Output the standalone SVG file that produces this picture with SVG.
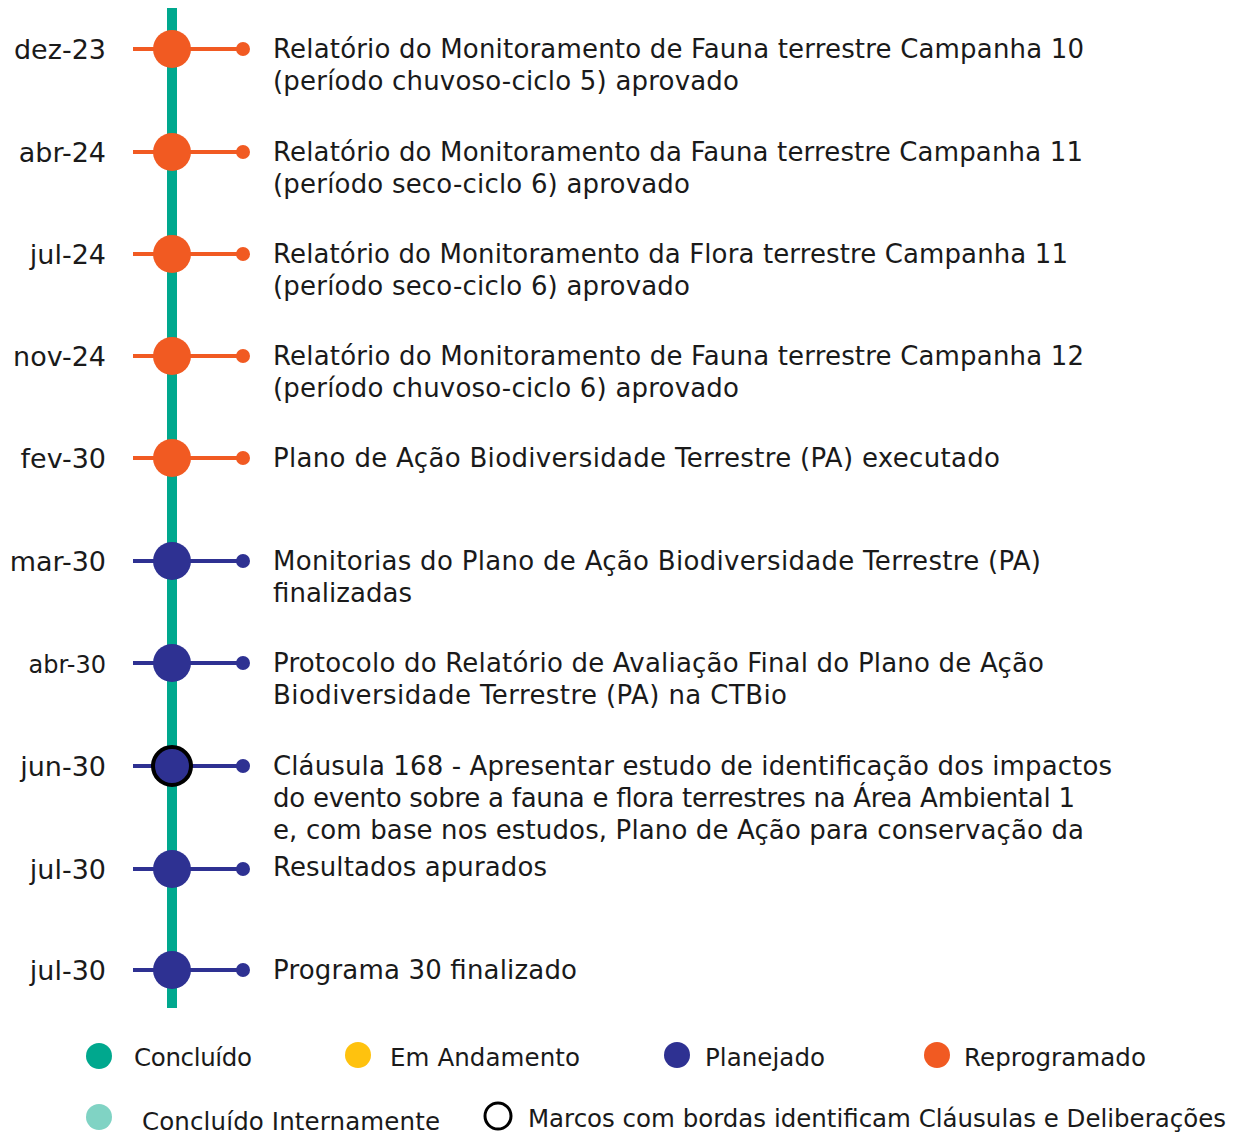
<svg xmlns="http://www.w3.org/2000/svg" width="1236" height="1135" viewBox="0 0 1236 1135">
<style>
text{font-family:"DejaVu Sans",Verdana,sans-serif;fill:#1a1a1a;font-size:26px}
.d{text-anchor:end;font-size:27px}
.g{font-size:24.5px}
.o{fill:#F15A22}.p{fill:#2E3192}
.ol{stroke:#F15A22;stroke-width:4}.pl{stroke:#2E3192;stroke-width:4}
</style>
<rect width="1236" height="1135" fill="#fff"/>
<g id="connectors">
<line x1="172" y1="8" x2="172" y2="1008" stroke="#00A88E" stroke-width="10"/>
</g>
<g id="n1"><line class="ol" x1="133" y1="49" x2="243" y2="49"/><circle class="o" cx="172" cy="49" r="19"/><circle class="o" cx="243" cy="49" r="7"/><text class="d" x="106" y="59">dez-23</text><text x="273" y="58" textLength="811">Relatório do Monitoramento de Fauna terrestre Campanha 10</text><text x="273" y="90" textLength="466">(período chuvoso-ciclo 5) aprovado</text></g>
<g id="n2"><line class="ol" x1="133" y1="152" x2="243" y2="152"/><circle class="o" cx="172" cy="152" r="19"/><circle class="o" cx="243" cy="152" r="7"/><text class="d" x="106" y="162">abr-24</text><text x="273" y="161" textLength="810">Relatório do Monitoramento da Fauna terrestre Campanha 11</text><text x="273" y="193" textLength="417">(período seco-ciclo 6) aprovado</text></g>
<g id="n3"><line class="ol" x1="133" y1="254" x2="243" y2="254"/><circle class="o" cx="172" cy="254" r="19"/><circle class="o" cx="243" cy="254" r="7"/><text class="d" x="106" y="264">jul-24</text><text x="273" y="263" textLength="795">Relatório do Monitoramento da Flora terrestre Campanha 11</text><text x="273" y="295" textLength="417">(período seco-ciclo 6) aprovado</text></g>
<g id="n4"><line class="ol" x1="133" y1="356" x2="243" y2="356"/><circle class="o" cx="172" cy="356" r="19"/><circle class="o" cx="243" cy="356" r="7"/><text class="d" x="106" y="366">nov-24</text><text x="273" y="365" textLength="811">Relatório do Monitoramento de Fauna terrestre Campanha 12</text><text x="273" y="397" textLength="466">(período chuvoso-ciclo 6) aprovado</text></g>
<g id="n5"><line class="ol" x1="133" y1="458" x2="243" y2="458"/><circle class="o" cx="172" cy="458" r="19"/><circle class="o" cx="243" cy="458" r="7"/><text class="d" x="106" y="468">fev-30</text><text x="273" y="467" textLength="727">Plano de Ação Biodiversidade Terrestre (PA) executado</text></g>
<g id="n6"><line class="pl" x1="133" y1="561" x2="243" y2="561"/><circle class="p" cx="172" cy="561" r="19"/><circle class="p" cx="243" cy="561" r="7"/><text class="d" x="106" y="571">mar-30</text><text x="273" y="570" textLength="768">Monitorias do Plano de Ação Biodiversidade Terrestre (PA)</text><text x="273" y="602" textLength="139">finalizadas</text></g>
<g id="n7"><line class="pl" x1="133" y1="663" x2="243" y2="663"/><circle class="p" cx="172" cy="663" r="19"/><circle class="p" cx="243" cy="663" r="7"/><text class="d" x="106" y="673" style="font-size:24px">abr-30</text><text x="273" y="672" textLength="771">Protocolo do Relatório de Avaliação Final do Plano de Ação</text><text x="273" y="704" textLength="514">Biodiversidade Terrestre (PA) na CTBio</text></g>
<g id="n8"><line class="pl" x1="133" y1="766" x2="243" y2="766"/><circle class="p" cx="172" cy="766" r="19" stroke="#000" stroke-width="4"/><circle class="p" cx="243" cy="766" r="7"/><text class="d" x="106" y="776">jun-30</text><text x="273" y="775" textLength="839">Cláusula 168 - Apresentar estudo de identificação dos impactos</text><text x="273" y="807" textLength="802">do evento sobre a fauna e flora terrestres na Área Ambiental 1</text><text x="273" y="839" textLength="811">e, com base nos estudos, Plano de Ação para conservação da</text></g>
<g id="n9"><line class="pl" x1="133" y1="869" x2="243" y2="869"/><circle class="p" cx="172" cy="869" r="19"/><circle class="p" cx="243" cy="869" r="7"/><text class="d" x="106" y="879">jul-30</text><text x="273" y="876" textLength="274">Resultados apurados</text></g>
<g id="n10"><line class="pl" x1="133" y1="970" x2="243" y2="970"/><circle class="p" cx="172" cy="970" r="19"/><circle class="p" cx="243" cy="970" r="7"/><text class="d" x="106" y="980">jul-30</text><text x="273" y="979" textLength="304">Programa 30 finalizado</text></g>
<g id="legend">
<circle cx="99" cy="1056" r="13" fill="#00A88E"/><text class="g" x="134" y="1066" textLength="118">Concluído</text>
<circle cx="358" cy="1055" r="13" fill="#FFC20E"/><text class="g" x="390" y="1066" textLength="190">Em Andamento</text>
<circle cx="677" cy="1055" r="13" fill="#2E3192"/><text class="g" x="705" y="1066" textLength="120">Planejado</text>
<circle cx="937" cy="1055" r="13" fill="#F15A22"/><text class="g" x="964" y="1066" textLength="182">Reprogramado</text>
<circle cx="99" cy="1117" r="13" fill="#80D3C4"/><text class="g" x="142" y="1130" textLength="298">Concluído Internamente</text>
<circle cx="498" cy="1116" r="13" fill="none" stroke="#000" stroke-width="3"/><text class="g" x="528" y="1127" textLength="698" lengthAdjust="spacingAndGlyphs">Marcos com bordas identificam Cláusulas e Deliberações</text>
</g>
</svg>
